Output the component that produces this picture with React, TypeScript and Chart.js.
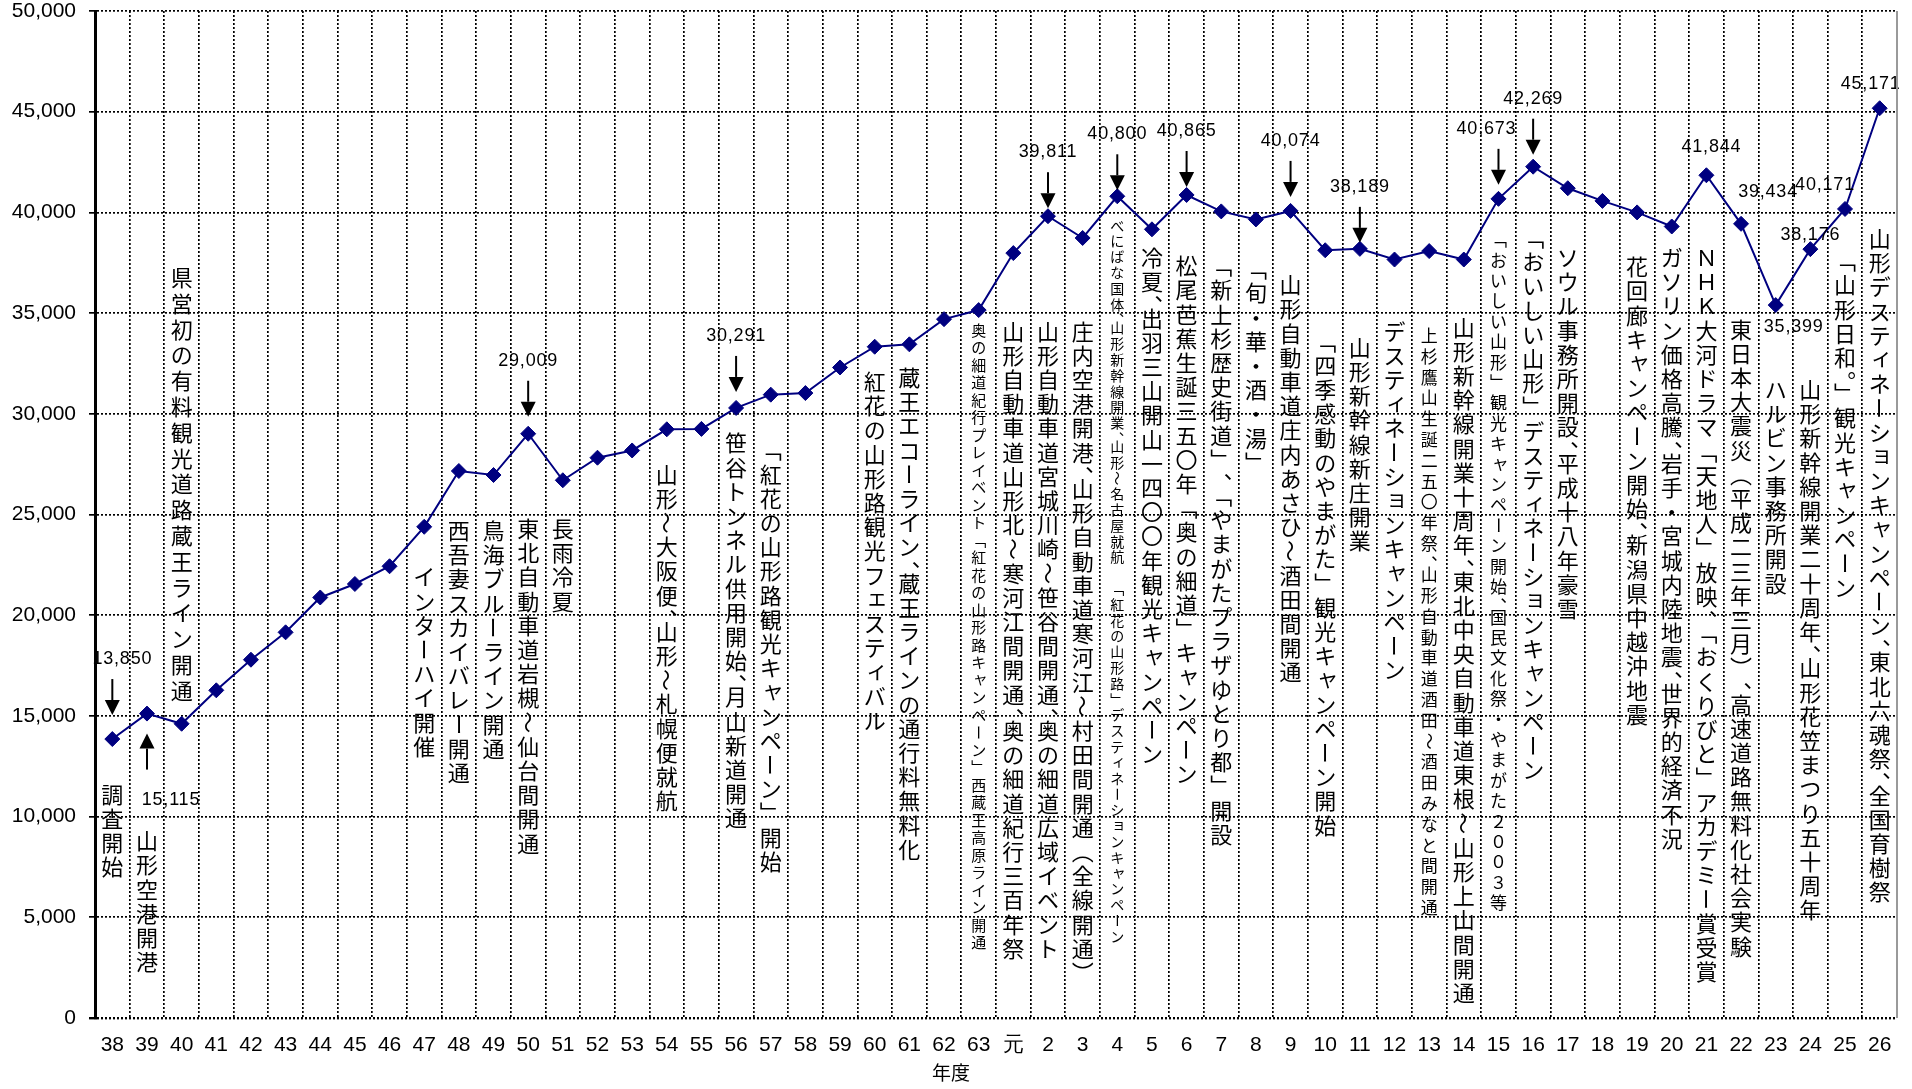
import React, { useEffect, useRef } from 'react';
import { Chart, registerables, Plugin } from 'chart.js';

Chart.register(...registerables);

// 年度 (昭和38 〜 平成26)
const years = [
  '38', '39', '40', '41', '42', '43', '44', '45', '46', '47', '48', '49', '50',
  '51', '52', '53', '54', '55', '56', '57', '58', '59', '60', '61', '62', '63',
  '元', '2', '3', '4', '5', '6', '7', '8', '9', '10', '11', '12', '13', '14',
  '15', '16', '17', '18', '19', '20', '21', '22', '23', '24', '25', '26',
];

// 観光者数 (千人)
const visitors = [
  13850, 15115, 14610, 16270, 17790, 19150, 20880, 21550, 22430, 24390, 27160, 26960, 29009,
  26700, 27820, 28180, 29230, 29250, 30291, 30950, 31030, 32300, 33330, 33450, 34700, 35150,
  37980, 39811, 38730, 40800, 39160, 40865, 40050, 39650, 40074, 38120, 38189, 37660, 38080, 37660,
  40673, 42269, 41200, 40570, 40000, 39300, 41844, 39434, 35399, 38176, 40171, 45171,
];

// 主な出来事
const events = [
  '調査開始',
  '山形空港開港',
  '県営初の有料観光道路蔵王ライン開通',
  '', '', '', '', '', '',
  'インターハイ開催',
  '西吾妻スカイバレー開通',
  '鳥海ブルーライン開通',
  '東北自動車道岩槻～仙台間開通',
  '長雨冷夏',
  '', '',
  '山形～大阪便、山形～札幌便就航',
  '',
  '笹谷トンネル供用開始、月山新道開通',
  '「紅花の山形路観光キャンペーン」開始',
  '', '',
  '紅花の山形路観光フェスティバル',
  '蔵王エコーライン、蔵王ラインの通行料無料化',
  '',
  '奥の細道紀行プレイベント「紅花の山形路キャンペーン」西蔵王高原ライン開通',
  '山形自動車道山形北～寒河江間開通、奥の細道紀行三百年祭',
  '山形自動車道宮城川崎～笹谷間開通、奥の細道広域イベント',
  '庄内空港開港、山形自動車道寒河江～村田間開通（全線開通）',
  'べにばな国体、山形新幹線開業、山形～名古屋就航　「紅花の山形路」デスティネーションキャンペーン',
  '冷夏、出羽三山開山一四〇〇年観光キャンペーン',
  '松尾芭蕉生誕三五〇年「奥の細道」キャンペーン',
  '「新上杉歴史街道」、「やまがたプラザゆとり都」開設',
  '「旬・華・酒・湯」',
  '山形自動車道庄内あさひ～酒田間開通',
  '「四季感動のやまがた」観光キャンペーン開始',
  '山形新幹線新庄開業',
  'デスティネーションキャンペーン',
  '上杉鷹山生誕二五〇年祭、山形自動車道酒田～酒田みなと間開通',
  '山形新幹線開業十周年、東北中央自動車道東根～山形上山間開通',
  '「おいしい山形」観光キャンペーン開始、国民文化祭・やまがた２００３等',
  '「おいしい山形」デスティネーションキャンペーン',
  'ソウル事務所開設、平成十八年豪雪',
  '',
  '花回廊キャンペーン開始、新潟県中越沖地震',
  'ガソリン価格高騰、岩手・宮城内陸地震、世界的経済不況',
  'ＮＨＫ大河ドラマ「天地人」放映、「おくりびと」アカデミー賞受賞',
  '東日本大震災（平成二三年三月）、高速道路無料化社会実験',
  'ハルビン事務所開設',
  '山形新幹線開業二十周年、山形花笠まつり五十周年',
  '「山形日和。」観光キャンペーン',
  '山形デスティネーションキャンペーン、東北六魂祭、全国育樹祭',
];

// 数値を表示する年度
const labelledYears = ['38', '39', '50', '56', '2', '4', '6', '9', '11', '15', '16', '21', '22', '23', '24', '25', '26'];

// --- layout ---

// where each vertical note starts (in axis units)
const noteTop: Record<string, number> = {
  '38': 11700, '39': 9400, '40': 37400, '47': 22500, '48': 24800, '49': 24800, '50': 24900,
  '51': 24900, '54': 27600, '56': 29150, '57': 28800, '60': 32200, '61': 32400, '63': 34600,
  '元': 34700, '2': 34700, '3': 34700, '4': 39750, '5': 38350, '6': 37950, '7': 37950,
  '8': 37800, '9': 37000, '10': 34200, '11': 33900, '12': 34700, '13': 34400, '14': 34900,
  '15': 39150, '16': 39350, '17': 38350, '19': 37900, '20': 38350, '21': 38350, '22': 34800,
  '23': 31800, '24': 31800, '25': 38200, '26': 39300,
};

const noteStyle: Record<string, { size: number; pitch: number }> = {
  '40': { size: 22, pitch: 25.8 },
  '63': { size: 15, pitch: 17.5 },
  '4': { size: 14, pitch: 15.8 },
  '13': { size: 17, pitch: 20.8 },
  '15': { size: 17, pitch: 20.4 },
};
const defaultNote = { size: 22, pitch: 24.2 };

type Callout = { arrow?: 'down' | 'up'; dx: number; dy: number };
const callouts: Record<string, Callout> = {
  '38': { arrow: 'down', dx: 10, dy: -80 },
  '39': { arrow: 'up', dx: 24, dy: 86 },
  '50': { arrow: 'down', dx: 0, dy: -73 },
  '56': { arrow: 'down', dx: 0, dy: -72 },
  '2': { arrow: 'down', dx: 0, dy: -64 },
  '4': { arrow: 'down', dx: 0, dy: -62 },
  '6': { arrow: 'down', dx: 0, dy: -64 },
  '9': { arrow: 'down', dx: 0, dy: -70 },
  '11': { arrow: 'down', dx: 0, dy: -62 },
  '15': { arrow: 'down', dx: -12, dy: -70 },
  '16': { arrow: 'down', dx: 0, dy: -68 },
  '21': { dx: 5, dy: -28 },
  '22': { dx: 27, dy: -32 },
  '23': { dx: 18, dy: 22 },
  '24': { dx: 0, dy: -14 },
  '25': { dx: -20, dy: -24 },
  '26': { dx: -9, dy: -24 },
};

const JP = '"Noto Sans CJK JP", "Noto Sans CJK SC", sans-serif';
const NUM = '"Liberation Sans", Arial, sans-serif';

const ROTATE = new Set(['ー', '～', '〜', '-', '(', ')', '―']);
const VERT: Record<string, string> = {
  '、': '︑', '。': '︒', '「': '﹁', '」': '﹂', '（': '︵', '）': '︶',
};
const HALF = new Set(['、', '。']);
const SMALL = new Set('ぁぃぅぇぉっゃゅょァィゥェォッャュョ'.split(''));

function drawVertical(ctx: CanvasRenderingContext2D, text: string, x: number, top: number, size: number, pitch: number) {
  ctx.save();
  ctx.font = `${size}px ${JP}`;
  ctx.textAlign = 'center';
  ctx.textBaseline = 'middle';
  let y = top;
  for (const ch of Array.from(text)) {
    if (ch === '　' || ch === ' ') {
      y += pitch;
      continue;
    }
    const cy = y + pitch / 2;
    if (ROTATE.has(ch)) {
      ctx.save();
      ctx.translate(x, cy);
      ctx.rotate(Math.PI / 2);
      ctx.fillText(ch, 0, 0);
      ctx.restore();
    } else if (SMALL.has(ch)) {
      ctx.fillText(ch, x + size * 0.1, cy - size * 0.12);
    } else {
      ctx.fillText(VERT[ch] ?? ch, x, cy);
    }
    y += HALF.has(ch) ? pitch * 0.5 : pitch;
  }
  ctx.restore();
}

function drawArrow(ctx: CanvasRenderingContext2D, x: number, from: number, to: number) {
  const dir = Math.sign(to - from);
  const head = 15;
  ctx.beginPath();
  ctx.moveTo(x, from);
  ctx.lineTo(x, to - dir * head);
  ctx.lineWidth = 2;
  ctx.stroke();
  ctx.beginPath();
  ctx.moveTo(x, to);
  ctx.lineTo(x - 7.5, to - dir * head);
  ctx.lineTo(x + 7.5, to - dir * head);
  ctx.closePath();
  ctx.fill();
}

const notesPlugin: Plugin<'line'> = {
  id: 'notes',
  afterDatasetsDraw(chart) {
    const { ctx, chartArea } = chart;
    const xs = chart.scales.x;
    const ys = chart.scales.y;
    ctx.save();
    ctx.fillStyle = '#000';
    ctx.strokeStyle = '#000';

    // vertical notes
    years.forEach((yr, i) => {
      const text = events[i];
      if (!text || noteTop[yr] === undefined) return;
      const st = noteStyle[yr] ?? defaultNote;
      drawVertical(ctx, text, xs.getPixelForValue(i), ys.getPixelForValue(noteTop[yr]), st.size, st.pitch);
    });

    // value labels and arrows
    const meta = chart.getDatasetMeta(0);
    ctx.font = `18px ${NUM}`;
    (ctx as any).letterSpacing = '0.8px';
    ctx.textAlign = 'center';
    ctx.textBaseline = 'middle';
    labelledYears.forEach((yr) => {
      const i = years.indexOf(yr);
      const pt = meta.data[i];
      const c = callouts[yr];
      if (!pt || !c) return;
      const px = pt.x;
      const py = pt.y;
      ctx.fillText(visitors[i].toLocaleString('en-US'), px + c.dx, py + c.dy);
      if (c.arrow === 'down') drawArrow(ctx, px, py + c.dy + 20, py + c.dy + 56);
      if (c.arrow === 'up') drawArrow(ctx, px, py + c.dy - 30, py + c.dy - 66);
    });
    (ctx as any).letterSpacing = '0px';

    // axis title
    ctx.font = `19px ${JP}`;
    ctx.fillText('年度', xs.getPixelForValue(24.2), chartArea.bottom + 55);

    // right frame
    ctx.strokeStyle = '#9a9a9a';
    ctx.lineWidth = 2;
    ctx.beginPath();
    ctx.moveTo(chartArea.right, chartArea.top);
    ctx.lineTo(chartArea.right, chartArea.bottom);
    ctx.stroke();
    ctx.restore();
  },
};

export default function App() {
  const canvasRef = useRef<HTMLCanvasElement>(null);

  useEffect(() => {
    document.body.style.margin = '0';
    document.body.style.overflow = 'hidden';
    if (!canvasRef.current) return;

    const chart = new Chart(canvasRef.current, {
      type: 'line',
      data: {
        labels: years,
        datasets: [
          {
            data: visitors,
            borderColor: '#000080',
            backgroundColor: '#000080',
            borderWidth: 2,
            pointStyle: 'rectRot',
            pointRadius: 7.5,
            pointBackgroundColor: '#000080',
            pointBorderColor: '#000080',
            pointBorderWidth: 1,
            tension: 0,
          },
        ],
      },
      options: {
        responsive: false,
        animation: false,
        layout: { padding: { top: 11, right: 15, left: 0, bottom: 0 } },
        scales: {
          x: {
            offset: true,
            grid: {
              offset: true,
              color: '#000',
              lineWidth: 1.7,
              drawTicks: false,
            },
            border: { display: false, dash: [2, 2] },
            ticks: {
              autoSkip: false,
              maxRotation: 0,
              padding: 15,
              color: '#000',
              font: { family: NUM, size: 21 },
            },
            afterFit: (scale) => {
              scale.height = 71;
              scale.paddingLeft = 0;
              scale.paddingRight = 0;
            },
          },
          y: {
            min: 0,
            max: 50000,
            grid: {
              color: '#000',
              lineWidth: (c) => (c.tick && c.tick.value === 0 ? 2.4 : 1.7),
              tickLength: 6,
              tickColor: '#000',
            },
            border: { display: true, color: '#000', width: 3, dash: [2, 2] },
            ticks: {
              stepSize: 5000,
              padding: 13,
              color: '#000',
              font: { family: NUM, size: 21 },
              callback: (v) => Number(v).toLocaleString('en-US'),
            },
            afterFit: (scale) => {
              scale.width = 95;
              scale.paddingTop = 0;
              scale.paddingBottom = 0;
            },
          },
        },
        plugins: {
          legend: { display: false },
          tooltip: { enabled: false },
        },
      },
      plugins: [notesPlugin],
    });

    return () => chart.destroy();
  }, []);

  return (
    <div style={{ width: 1912, height: 1089, background: '#fff' }}>
      <canvas ref={canvasRef} width={1912} height={1089} style={{ display: 'block', width: 1912, height: 1089 }} />
    </div>
  );
}
